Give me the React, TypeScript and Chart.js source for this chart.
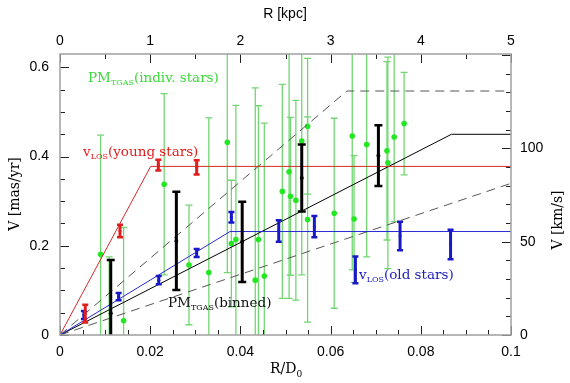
import React, { useEffect, useRef } from 'react';
import { Chart, registerables } from 'chart.js';

Chart.register(...registerables);

// ---------- tick labels ----------
const RD_TICKS = [0, 0.02, 0.04, 0.06, 0.08, 0.1];
const RD_LABELS = ['0', '0.02', '0.04', '0.06', '0.08', '0.1'];
const KPC_TICKS = [0, 1, 2, 3, 4, 5];
const KPC_LABELS = ['0', '1', '2', '3', '4', '5'];
const MAS_TICKS = [0, 0.2, 0.4, 0.6];
const MAS_LABELS = ['0', '0.2', '0.4', '0.6'];
const KMS_TICKS = [0, 50, 100];
const KMS_LABELS = ['0', '50', '100'];

// ---------- PM_TGAS individual stars (R/D0, V [mas/yr], error) ----------
const starX = [0.0090, 0.0109, 0.0141, 0.0231, 0.0286, 0.0330, 0.0371, 0.0380, 0.0390, 0.0433, 0.0440, 0.0453, 0.0493, 0.0508, 0.0511, 0.0523, 0.0536, 0.0549, 0.0549, 0.0608, 0.0648, 0.0652, 0.0680, 0.0725, 0.0727, 0.0741, 0.0763];
const starV = [0.181, -0.05, 0.032, 0.338, 0.157, 0.140, 0.432, 0.205, 0.214, 0.123, 0.214, 0.132, 0.322, 0.366, 0.311, 0.302, 0.435, 0.468, 0.259, 0.273, 0.446, 0.260, 0.427, 0.413, 0.386, 0.444, 0.474];
const starErr = [0.267, 0.225, 0.209, 0.203, 0.134, 0.347, 0.292, 0.142, 0.301, 0.431, 0.300, 0.343, 0.240, 0.284, 0.177, 0.224, 0.300, 0.152, 0.230, 0.213, 0.300, 0.142, 0.252, 0.200, 0.237, 0.190, 0.115];

// ---------- PM_TGAS binned ----------
const binX = [0.01125, 0.0258, 0.0404, 0.0536, 0.0706];
const binV = [0.049, 0.211, 0.209, 0.352, 0.402];
const binErr = [0.119, 0.110, 0.090, 0.075, 0.068];

// ---------- v_LOS young stars ----------
const redX = [0.0056, 0.0133, 0.0218, 0.0303];
const redV = [0.048, 0.233, 0.381, 0.376];
const redErr = [0.020, 0.014, 0.012, 0.016];

// ---------- v_LOS old stars ----------
const blueX = [0.0053, 0.0130, 0.0219, 0.0303, 0.0380, 0.0485, 0.0564, 0.0655, 0.0754, 0.0866];
const blueV = [0.045, 0.086, 0.123, 0.184, 0.264, 0.233, 0.243, 0.146, 0.222, 0.203];
const blueErr = [0.009, 0.008, 0.009, 0.009, 0.012, 0.024, 0.024, 0.030, 0.032, 0.033];

// ---------- model curves ----------
const redModelX = [0, 0.0201, 0.1];
const redModelY = [0, 0.378, 0.378];
const blueModelX = [0, 0.0377, 0.1];
const blueModelY = [0, 0.232, 0.232];
const blackModelX = [0, 0.0868, 0.1];
const blackModelY = [0, 0.45, 0.45];
const upperModelX = [0, 0.0636, 0.1];
const upperModelY = [0, 0.547, 0.547];
const lowerModelX = [0, 0.1];
const lowerModelY = [0, 0.34];

const Y_MAX = 0.63;
const KMS_MAX = 150.5;

const SANS = '"Liberation Sans", Arial, sans-serif';
const SERIF = '"DejaVu Serif", serif';
const W = 570;
const H = 383;

const pts = (xs: number[], ys: number[]) => xs.map((x, i) => ({ x, y: ys[i] }));

type ErrSpec = { err: number[]; color: string; width: number; cap: number };
const ERRORS: Record<string, ErrSpec> = {
  stars: { err: starErr, color: '#72d672', width: 1.3, cap: 3.5 },
  binned: { err: binErr, color: '#000000', width: 3, cap: 4 },
  young: { err: redErr, color: '#e01e1e', width: 3, cap: 3 },
  old: { err: blueErr, color: '#1818c8', width: 3, cap: 3 },
};

function drawLabel(ctx: CanvasRenderingContext2D, x: number, y: number, main: string, sub: string, rest: string, color: string, size: number) {
  ctx.fillStyle = color;
  ctx.textBaseline = 'alphabetic';
  ctx.textAlign = 'left';
  ctx.font = `${size}px ${SERIF}`;
  ctx.fillText(main, x, y);
  let cx = x + ctx.measureText(main).width;
  ctx.font = `${Math.round(size * 0.6)}px ${SERIF}`;
  ctx.fillText(sub, cx, y + 3);
  cx += ctx.measureText(sub).width;
  ctx.font = `${size}px ${SERIF}`;
  ctx.fillText(rest, cx, y);
}

export default function App() {
  const ref = useRef<HTMLCanvasElement>(null);

  useEffect(() => {
    const canvas = ref.current!;
    const clipArea = (chart: any) => {
      const { ctx, chartArea: a } = chart;
      ctx.beginPath();
      ctx.rect(a.left, a.top, a.right - a.left, a.bottom - a.top);
      ctx.clip();
    };
    const drawErr = (chart: any, index: number) => {
      const ds = chart.data.datasets[index];
      const spec = ERRORS[ds.label];
      if (!spec) return;
      const { ctx } = chart;
      const xs = chart.scales.x;
      const ys = chart.scales.y;
      ctx.save();
      clipArea(chart);
      ctx.strokeStyle = spec.color;
      ctx.lineWidth = spec.width;
      ds.data.forEach((p: any, i: number) => {
        const e = spec.err[i];
        const px = xs.getPixelForValue(p.x);
        const y1 = ys.getPixelForValue(p.y + e);
        const y2 = ys.getPixelForValue(p.y - e);
        ctx.beginPath();
        ctx.moveTo(px, y1);
        ctx.lineTo(px, y2);
        ctx.stroke();
        ctx.beginPath();
        ctx.lineWidth = spec.width > 2 ? 2.5 : spec.width;
        ctx.moveTo(px - spec.cap, y1);
        ctx.lineTo(px + spec.cap, y1);
        ctx.moveTo(px - spec.cap, y2);
        ctx.lineTo(px + spec.cap, y2);
        ctx.stroke();
        ctx.lineWidth = spec.width;
      });
      ctx.restore();
    };

    const plugin = {
      id: 'lmcDecor',
      beforeDatasetDraw(chart: any, args: any) {
        const ds = chart.data.datasets[args.index];
        if (ds.label === 'stars') drawErr(chart, args.index);
      },
      afterDatasetDraw(chart: any, args: any) {
        const ds = chart.data.datasets[args.index];
        if (ds.label !== 'stars') drawErr(chart, args.index);
      },
      afterDatasetsDraw(chart: any) {
        const { ctx, chartArea: a, scales } = chart;
        ctx.save();
        // ticks (inward)
        ctx.strokeStyle = '#222';
        ctx.lineWidth = 1;
        const tick = (x1: number, y1: number, x2: number, y2: number) => {
          ctx.beginPath();
          ctx.moveTo(x1, y1);
          ctx.lineTo(x2, y2);
          ctx.stroke();
        };
        const MAJ = 9;
        const MIN = 5;
        for (let k = 0; k <= 20; k++) {
          const px = Math.round(scales.x.getPixelForValue(k * 0.005)) + 0.5;
          tick(px, a.bottom, px, a.bottom - (k % 4 === 0 ? MAJ : MIN));
        }
        for (let k = 0; k <= 10; k++) {
          const px = Math.round(scales.x2.getPixelForValue(k * 0.5)) + 0.5;
          tick(px, a.top, px, a.top + (k % 2 === 0 ? MAJ : MIN));
        }
        for (let k = 0; k * 0.05 <= Y_MAX; k++) {
          const py = Math.round(scales.y.getPixelForValue(k * 0.05)) + 0.5;
          tick(a.left, py, a.left + (k % 4 === 0 ? MAJ : MIN), py);
        }
        for (let k = 0; k * 10 <= KMS_MAX; k++) {
          const py = Math.round(scales.y2.getPixelForValue(k * 10)) + 0.5;
          tick(a.right, py, a.right - (k % 5 === 0 ? MAJ : MIN), py);
        }
        // frame
        ctx.strokeStyle = '#a6a6a6';
        ctx.lineWidth = 1.6;
        ctx.strokeRect(a.left, a.top, a.right - a.left, a.bottom - a.top);

        // annotations
        drawLabel(ctx, 88, 82, 'PM', 'TGAS', '(indiv. stars)', '#3cd83c', 13.5);
        drawLabel(ctx, 83, 156, 'v', 'LOS', '(young stars)', '#e02020', 13.5);
        drawLabel(ctx, 168, 307, 'PM', 'TGAS', '(binned)', '#111', 13.5);
        drawLabel(ctx, 359, 279, 'v', 'LOS', '(old stars)', '#2020c0', 13.5);
        ctx.restore();
      },
      afterDraw(chart: any) {
        const { ctx } = chart;
        ctx.save();
        ctx.fillStyle = '#000';
        // top axis title
        ctx.font = `14px ${SANS}`;
        ctx.textAlign = 'center';
        ctx.textBaseline = 'middle';
        ctx.fillText('R [kpc]', 285, 14);
        // left axis title
        ctx.font = `14px ${SERIF}`;
        ctx.save();
        ctx.translate(15, 194);
        ctx.rotate(-Math.PI / 2);
        ctx.fillText('V [mas/yr]', 0, 0);
        ctx.restore();
        // right axis title
        ctx.save();
        ctx.translate(558, 220);
        ctx.rotate(-Math.PI / 2);
        ctx.fillText('V [km/s]', 0, 0);
        ctx.restore();
        // bottom axis title
        ctx.textAlign = 'left';
        ctx.textBaseline = 'alphabetic';
        ctx.font = `14px ${SERIF}`;
        ctx.fillText('R/D', 270, 373);
        const w = ctx.measureText('R/D').width;
        ctx.font = `9px ${SERIF}`;
        ctx.fillText('0', 270 + w, 377);
        ctx.restore();
      },
    };

    const tickFont = { family: SANS, size: 14 };
    const chart = new Chart(canvas, {
      type: 'scatter',
      data: {
        datasets: [
          { label: 'young', data: pts(redX, redV), pointRadius: 1.5, pointBackgroundColor: '#e01e1e', pointBorderWidth: 0, order: 1 } as any,
          { label: 'old', data: pts(blueX, blueV), pointRadius: 1.5, pointBackgroundColor: '#1818c8', pointBorderWidth: 0, order: 1 } as any,
          { label: 'binned', data: pts(binX, binV), pointRadius: 2, pointBackgroundColor: '#000', pointBorderWidth: 0, order: 1 } as any,
          { label: 'redModel', data: pts(redModelX, redModelY), showLine: true, borderColor: '#d42a2a', borderWidth: 1, pointRadius: 0, order: 3 } as any,
          { label: 'blueModel', data: pts(blueModelX, blueModelY), showLine: true, borderColor: '#2a2ad4', borderWidth: 1, pointRadius: 0, order: 3 } as any,
          { label: 'blackModel', data: pts(blackModelX, blackModelY), showLine: true, borderColor: '#000', borderWidth: 1, pointRadius: 0, order: 3 } as any,
          { label: 'upperModel', data: pts(upperModelX, upperModelY), showLine: true, borderColor: '#555', borderWidth: 1, borderDash: [9, 6], pointRadius: 0, order: 3 } as any,
          { label: 'lowerModel', data: pts(lowerModelX, lowerModelY), showLine: true, borderColor: '#555', borderWidth: 1, borderDash: [9, 6], pointRadius: 0, order: 3 } as any,
          { label: 'stars', data: pts(starX, starV), pointRadius: 2.8, pointBackgroundColor: '#22e822', pointBorderWidth: 0, order: 5 } as any,
        ],
      },
      options: {
        responsive: false,
        animation: false,
        devicePixelRatio: 1,
        events: [],
        layout: { padding: 0 },
        plugins: { legend: { display: false }, tooltip: { enabled: false } },
        scales: {
          x: {
            type: 'linear', position: 'bottom', min: 0, max: 0.1,
            afterBuildTicks: (s: any) => { s.ticks = RD_TICKS.map((v) => ({ value: v })); },
            afterFit: (s: any) => { s.height = 48; },
            grid: { display: false, drawTicks: false }, border: { display: false },
            ticks: { autoSkip: false, maxRotation: 0, padding: 9, color: '#000', font: tickFont, callback: (_v: any, i: number) => RD_LABELS[i] },
          },
          x2: {
            type: 'linear', axis: 'x', position: 'top', min: 0, max: 5,
            afterBuildTicks: (s: any) => { s.ticks = KPC_TICKS.map((v) => ({ value: v })); },
            afterFit: (s: any) => { s.height = 54; },
            grid: { display: false, drawTicks: false }, border: { display: false },
            ticks: { autoSkip: false, maxRotation: 0, padding: 4, color: '#000', font: tickFont, callback: (_v: any, i: number) => KPC_LABELS[i] },
          },
          y: {
            type: 'linear', position: 'left', min: 0, max: Y_MAX,
            afterBuildTicks: (s: any) => { s.ticks = MAS_TICKS.map((v) => ({ value: v })); },
            afterFit: (s: any) => { s.width = 60; },
            grid: { display: false, drawTicks: false }, border: { display: false },
            ticks: { autoSkip: false, padding: 11, color: '#000', font: tickFont, callback: (_v: any, i: number) => MAS_LABELS[i] },
          },
          y2: {
            type: 'linear', axis: 'y', position: 'right', min: 0, max: KMS_MAX,
            afterBuildTicks: (s: any) => { s.ticks = KMS_TICKS.map((v) => ({ value: v })); },
            afterFit: (s: any) => { s.width = 59; },
            grid: { display: false, drawTicks: false }, border: { display: false },
            ticks: { autoSkip: false, padding: 9, color: '#000', font: tickFont, callback: (_v: any, i: number) => KMS_LABELS[i] },
          },
        } as any,
      },
      plugins: [plugin as any],
    });
    return () => chart.destroy();
  }, []);

  return (
    <div style={{ position: 'fixed', left: 0, top: 0, width: W, height: H, background: '#fff' }}>
      <canvas ref={ref} width={W} height={H} style={{ width: W, height: H, display: 'block' }} />
    </div>
  );
}
